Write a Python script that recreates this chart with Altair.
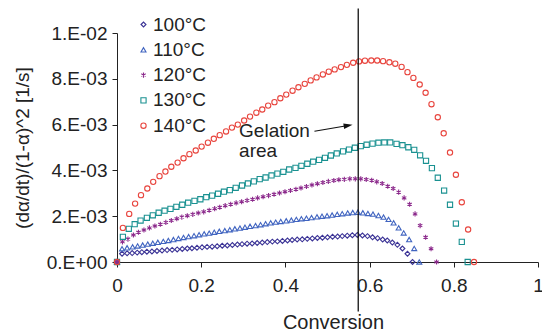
import altair as alt
import pandas as pd

FONT = "Liberation Sans"

SERIES = ["100°C", "110°C", "120°C", "130°C", "140°C"]
COLORS = ["#3b3396", "#4064c0", "#8c2a8c", "#1a9191", "#e8453e"]
ASTERISK = "M0,-1L0,1M-0.87,-0.5L0.87,0.5M-0.87,0.5L0.87,-0.5"
SHAPES = ["diamond", "triangle-up", ASTERISK, "square", "circle"]
SIZES = [24, 28, 80, 17, 17]
STROKES = [1.1, 1.1, 1.6, 1.1, 1.1]

# Conversion values (x) per series
X_100 = [0, .012, .024, .036, .048, .059, .071, .083, .095, .107, .119, .131, .143, .155, .167,
         .178, .190, .202, .214, .226, .238, .250, .262, .274, .286, .297, .309, .321, .333, .345,
         .357, .369, .381, .393, .405, .416, .428, .440, .452, .464, .476, .488, .500, .512, .524,
         .535, .547, .559, .571, .583, .595, .607, .619, .631, .642, .654, .666, .678, .690, .702]
X_110 = [0, .012, .024, .037, .049, .061, .073, .085, .097, .110, .122, .134, .146, .158, .170,
         .183, .195, .207, .219, .231, .243, .256, .268, .280, .292, .304, .316, .329, .341, .353,
         .365, .377, .389, .402, .414, .426, .438, .450, .462, .475, .487, .499, .511, .523, .535,
         .548, .560, .572, .584, .596, .608, .621, .633, .645, .657, .669, .681, .694, .706, .718]
X_120 = [0, .013, .026, .039, .051, .064, .077, .090, .103, .116, .129, .142, .154, .167, .180,
         .193, .206, .219, .232, .244, .257, .270, .283, .296, .309, .322, .334, .347, .360, .373,
         .386, .399, .412, .425, .437, .450, .463, .476, .489, .502, .515, .527, .540, .553, .566,
         .579, .592, .605, .617, .630, .643, .656, .669, .682, .695, .708, .720, .733, .746, .759]
X_130 = [0, .014, .028, .042, .056, .071, .085, .099, .113, .127, .141, .155, .169, .184, .198,
         .212, .226, .240, .254, .268, .282, .297, .311, .325, .339, .353, .367, .381, .395, .409,
         .424, .438, .452, .466, .480, .494, .508, .522, .537, .551, .565, .579, .593, .607, .621,
         .635, .649, .664, .678, .692, .706, .720, .734, .748, .762, .777, .791, .805, .819, .833]
X_140 = [0, .014, .029, .043, .057, .072, .086, .101, .115, .129, .144, .158, .172, .187, .201,
         .216, .230, .244, .259, .273, .287, .302, .316, .331, .345, .359, .374, .388, .402, .417,
         .431, .446, .460, .474, .489, .503, .517, .532, .546, .561, .575, .589, .604, .618, .632,
         .647, .661, .676, .690, .704, .719, .733, .747, .762, .776, .791, .805, .819, .834, .848]

# Rate values (units of 1E-03 1/s)
Y_100 = [0, .36, .38, .39, .41, .43, .45, .46, .48, .50, .52, .53, .55, .57, .59,
         .60, .62, .64, .66, .67, .69, .71, .72, .74, .76, .78, .80, .81, .83, .85,
         .87, .89, .90, .92, .94, .96, .98, .99, 1.01, 1.03, 1.05, 1.06, 1.08, 1.10, 1.11,
         1.13, 1.15, 1.17, 1.18, 1.16, 1.13, 1.08, 1.04, 0.98, 0.94, 0.85, 0.75, 0.59, 0.36, 0]
Y_110 = [0, .58, .62, .66, .70, .74, .78, .82, .86, .90, .94, .98, 1.03, 1.07, 1.11,
         1.15, 1.19, 1.23, 1.26, 1.30, 1.34, 1.37, 1.41, 1.45, 1.48, 1.52, 1.56, 1.59, 1.63, 1.67,
         1.71, 1.74, 1.77, 1.80, 1.83, 1.86, 1.89, 1.91, 1.94, 1.97, 2.00, 2.02, 2.05, 2.08, 2.11,
         2.14, 2.16, 2.17, 2.15, 2.12, 2.09, 2.03, 1.96, 1.86, 1.71, 1.49, 1.27, 0.98, 0.59, 0]
Y_120 = [0, .88, 1.00, 1.18, 1.30, 1.40, 1.49, 1.57, 1.65, 1.73, 1.81, 1.89, 1.96, 2.02, 2.08,
         2.14, 2.19, 2.26, 2.33, 2.39, 2.46, 2.52, 2.58, 2.63, 2.69, 2.74, 2.80, 2.85, 2.90, 2.96,
         3.01, 3.07, 3.12, 3.18, 3.23, 3.30, 3.36, 3.42, 3.47, 3.52, 3.56, 3.59, 3.61, 3.63, 3.63,
         3.63, 3.60, 3.57, 3.50, 3.43, 3.31, 3.21, 3.05, 2.80, 2.52, 2.10, 1.59, 1.08, 0.58, 0]
Y_130 = [0, 1.10, 1.45, 1.65, 1.81, 1.93, 2.04, 2.15, 2.24, 2.32, 2.41, 2.50, 2.59, 2.67, 2.74,
         2.83, 2.90, 2.98, 3.07, 3.14, 3.24, 3.34, 3.43, 3.52, 3.62, 3.69, 3.78, 3.86, 3.94, 4.04,
         4.11, 4.20, 4.29, 4.38, 4.46, 4.55, 4.65, 4.74, 4.83, 4.91, 4.99, 5.06, 5.12, 5.17, 5.21,
         5.22, 5.22, 5.16, 5.10, 5.01, 4.90, 4.66, 4.42, 4.10, 3.68, 3.12, 2.50, 1.68, 0.88, 0]
Y_140 = [0, 1.49, 2.10, 2.55, 2.92, 3.21, 3.50, 3.75, 3.95, 4.16, 4.34, 4.53, 4.71, 4.87, 5.04,
         5.21, 5.38, 5.54, 5.70, 5.87, 6.00, 6.18, 6.35, 6.52, 6.66, 6.83, 6.98, 7.15, 7.31, 7.48,
         7.63, 7.78, 7.93, 8.06, 8.19, 8.31, 8.41, 8.51, 8.61, 8.70, 8.76, 8.79, 8.80, 8.80, 8.77,
         8.72, 8.66, 8.52, 8.29, 8.04, 7.75, 7.39, 6.89, 6.32, 5.62, 4.78, 3.81, 2.61, 1.42, 0]

X_TICKS = [0, 0.2, 0.4, 0.6, 0.8, 1.0]
X_TICK_LABELS = ["0", "0.2", "0.4", "0.6", "0.8", "1"]
Y_TICKS = [0, 2, 4, 6, 8, 10]
Y_TICK_LABELS = ["0.E+00", "2.E-03", "4.E-03", "6.E-03", "8.E-03", "1.E-02"]

# Annotation: gelation line and arrow (data units)
GEL_X = [0.573]
GEL_Y = [11.07]
GEL_Y2 = [-2.16]
ARROW_X = [0.469]
ARROW_Y = [5.71]
ARROW_X2 = [0.549]
ARROW_Y2 = [5.96]
LABEL_X = [0.290]
LABEL_Y = [5.47]
LABEL_TEXT = ["Gelation\narea"]

rows = []
for name, xs, ys in zip(SERIES, [X_100, X_110, X_120, X_130, X_140],
                        [Y_100, Y_110, Y_120, Y_130, Y_140]):
    for x, y in zip(xs, ys):
        rows.append({"series": name, "conversion": x, "rate": y})
df = pd.DataFrame(rows)

xscale = alt.Scale(domain=[0, 1], nice=False, zero=False)
yscale = alt.Scale(domain=[0, 10], nice=False, zero=False)

x_label_expr = "[" + ",".join("'%s'" % s for s in X_TICK_LABELS) + "][round(datum.value*5)]"
y_label_expr = "[" + ",".join("'%s'" % s for s in Y_TICK_LABELS) + "][round(datum.value/2)]"

x_axis = alt.Axis(values=X_TICKS, labelExpr=x_label_expr, title="Conversion",
                  grid=False, tickSize=5, labelPadding=9, labelFlush=False,
                  labelOverlap=False, labelFontSize=19, labelFont=FONT,
                  labelColor="#222", domainColor="#222", tickColor="#222",
                  titleFontSize=20, titleFont=FONT, titleFontWeight="normal",
                  titleColor="#222", titleX=216, titleY=66,
                  titleBaseline="alphabetic")
y_axis = alt.Axis(values=Y_TICKS, labelExpr=y_label_expr,
                  title="(dα/dt)/(1-α)^2 [1/s]",
                  grid=False, tickSize=5, labelPadding=5, labelOverlap=False,
                  labelFontSize=19, labelFont=FONT, labelColor="#222",
                  domainColor="#222", tickColor="#222",
                  titleFontSize=19, titleFont=FONT, titleFontWeight="normal",
                  titleColor="#222", titleX=-95, titleY=114.5,
                  titleBaseline="middle", titleAngle=270)

leg = alt.Legend(title=None, orient="none", legendX=17, legendY=-18, padding=0,
                 labelFontSize=19, labelFont=FONT, labelColor="#222",
                 symbolSize=30, symbolStrokeWidth=1.3, rowPadding=5.3, labelOffset=0)

points = alt.Chart(df).mark_point(filled=False, opacity=1).encode(
    x=alt.X("conversion:Q", scale=xscale, axis=x_axis),
    y=alt.Y("rate:Q", scale=yscale, axis=y_axis),
    color=alt.Color("series:N", scale=alt.Scale(domain=SERIES, range=COLORS), legend=leg),
    shape=alt.Shape("series:N", scale=alt.Scale(domain=SERIES, range=SHAPES), legend=leg),
    size=alt.Size("series:N", scale=alt.Scale(domain=SERIES, range=SIZES), legend=None),
    strokeWidth=alt.StrokeWidth("series:N", scale=alt.Scale(domain=SERIES, range=STROKES),
                                legend=None),
)

gel_df = pd.DataFrame({"x": GEL_X, "y": GEL_Y, "y2": GEL_Y2})
rule = alt.Chart(gel_df).mark_rule(color="#111", strokeWidth=1.3, clip=False).encode(
    x=alt.X("x:Q", scale=xscale, axis=x_axis),
    y=alt.Y("y:Q", scale=yscale, axis=y_axis),
    y2="y2:Q",
)

arrow_df = pd.DataFrame({"x": ARROW_X, "y": ARROW_Y, "x2": ARROW_X2, "y2": ARROW_Y2})
arrow_line = alt.Chart(arrow_df).mark_rule(color="#111", strokeWidth=1.2).encode(
    x=alt.X("x:Q", scale=xscale, axis=x_axis),
    y=alt.Y("y:Q", scale=yscale, axis=y_axis),
    x2="x2:Q", y2="y2:Q",
)
arrow_head = alt.Chart(arrow_df).mark_point(
    shape="M1,0L-1,-0.6L-1,0.6Z", filled=True, color="#111", size=80, angle=350.5, opacity=1
).encode(
    x=alt.X("x2:Q", scale=xscale, axis=x_axis),
    y=alt.Y("y2:Q", scale=yscale, axis=y_axis),
)

label_df = pd.DataFrame({"x": LABEL_X, "y": LABEL_Y, "t": LABEL_TEXT})
label = alt.Chart(label_df).mark_text(
    align="left", baseline="alphabetic", fontSize=19, font=FONT, color="#222",
    lineBreak="\n", lineHeight=20
).encode(
    x=alt.X("x:Q", scale=xscale, axis=x_axis),
    y=alt.Y("y:Q", scale=yscale, axis=y_axis),
    text="t:N",
)

chart = alt.layer(points, rule, arrow_line, arrow_head, label).properties(
    width=421, height=229,
    autosize=alt.AutoSizeParams(type="none"),
    padding={"left": 117, "top": 33, "right": 4, "bottom": 72},
    background="white",
).configure(font=FONT).configure_view(stroke=None)

chart.save("out.html", embed_options={"renderer": "svg", "actions": False})
